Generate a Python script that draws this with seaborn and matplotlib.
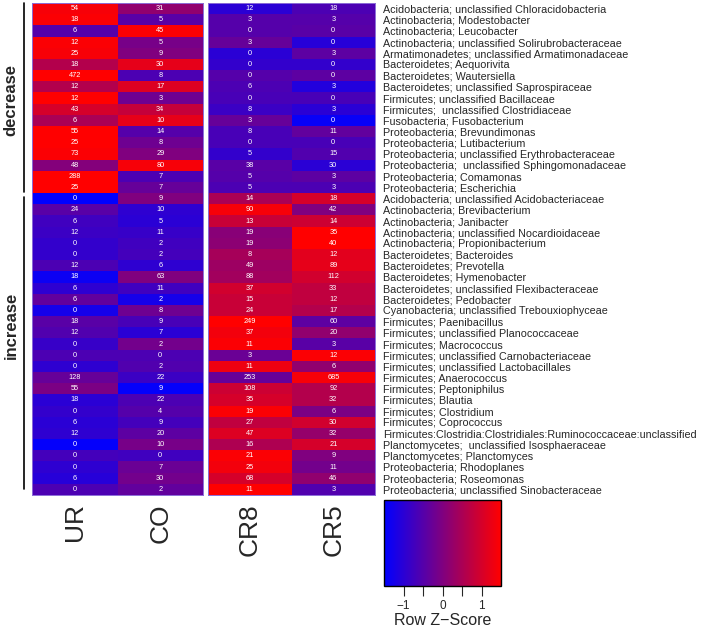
import numpy as np
import pandas as pd
import seaborn as sns
import matplotlib
matplotlib.use("Agg")
import matplotlib.pyplot as plt
from matplotlib.colors import LinearSegmentedColormap

# taxa, top to bottom (first 17 = decrease, last 27 = increase)
taxa = [
    "Acidobacteria; unclassified Chloracidobacteria",
    "Actinobacteria; Modestobacter",
    "Actinobacteria; Leucobacter",
    "Actinobacteria; unclassified Solirubrobacteraceae",
    "Armatimonadetes; unclassified Armatimonadaceae",
    "Bacteroidetes; Aequorivita",
    "Bacteroidetes; Wautersiella",
    "Bacteroidetes; unclassified Saprospiraceae",
    "Firmicutes; unclassified Bacillaceae",
    "Firmicutes;  unclassified Clostridiaceae",
    "Fusobacteria; Fusobacterium",
    "Proteobacteria; Brevundimonas",
    "Proteobacteria; Lutibacterium",
    "Proteobacteria; unclassified Erythrobacteraceae",
    "Proteobacteria;  unclassified Sphingomonadaceae",
    "Proteobacteria; Comamonas",
    "Proteobacteria; Escherichia",
    "Acidobacteria; unclassified Acidobacteriaceae",
    "Actinobacteria; Brevibacterium",
    "Actinobacteria; Janibacter",
    "Actinobacteria; unclassified Nocardioidaceae",
    "Actinobacteria; Propionibacterium",
    "Bacteroidetes; Bacteroides",
    "Bacteroidetes; Prevotella",
    "Bacteroidetes; Hymenobacter",
    "Bacteroidetes; unclassified Flexibacteraceae",
    "Bacteroidetes; Pedobacter",
    "Cyanobacteria; unclassified Trebouxiophyceae",
    "Firmicutes; Paenibacillus",
    "Firmicutes; unclassified Planococcaceae",
    "Firmicutes; Macrococcus",
    "Firmicutes; unclassified Carnobacteriaceae",
    "Firmicutes; unclassified Lactobacillales",
    "Firmicutes; Anaerococcus",
    "Firmicutes; Peptoniphilus",
    "Firmicutes; Blautia",
    "Firmicutes; Clostridium",
    "Firmicutes; Coprococcus",
    "Firmicutes:Clostridia:Clostridiales:Ruminococcaceae:unclassified",
    "Planctomycetes;  unclassified Isosphaeraceae",
    "Planctomycetes; Planctomyces",
    "Proteobacteria; Rhodoplanes",
    "Proteobacteria; Roseomonas",
    "Proteobacteria; unclassified Sinobacteraceae",
]
n_decrease = 17
n_increase = 27

# counts printed in the cells
ur_counts = [54, 18, 6, 12, 25, 18, 472, 12, 12, 43, 6, 55, 25, 73, 48, 288, 25,
             0, 24, 6, 12, 0, 0, 12, 18, 6, 6, 0, 18, 12, 0, 0, 0, 128, 55, 18, 0, 6, 12, 0, 0, 0, 6, 0]
co_counts = [31, 5, 45, 5, 9, 30, 8, 17, 3, 34, 10, 14, 8, 29, 80, 7, 7,
             9, 10, 5, 11, 2, 2, 6, 63, 11, 2, 8, 9, 7, 2, 0, 2, 22, 9, 22, 4, 9, 20, 10, 0, 7, 30, 2]
cr8_counts = [12, 3, 0, 3, 0, 0, 0, 6, 0, 8, 3, 8, 0, 5, 38, 5, 5,
              14, 90, 13, 19, 19, 8, 49, 88, 37, 15, 24, 249, 37, 11, 3, 11, 253, 108, 35, 19, 27, 47, 16, 21, 25, 68, 11]
cr5_counts = [18, 3, 0, 0, 3, 0, 0, 3, 0, 3, 0, 11, 0, 15, 30, 3, 3,
              18, 42, 14, 35, 40, 12, 89, 112, 33, 12, 17, 60, 20, 3, 12, 6, 685, 92, 32, 6, 30, 32, 21, 9, 11, 46, 3]

# row z-scores (cell colours)
ur_z = [1.4, 1.45, -0.5, 1.45, 1.4, 0.6, 1.5, 0.6, 1.5, 1.0, 0.5, 1.5, 1.5, 1.45, 0.05, 1.5, 1.5,
        -1.5, -0.45, -0.75, -0.8, -0.9, -0.9, -0.6, -1.35, -0.95, -0.35, -1.25, -0.45, -0.55, -0.85,
        -0.6, -0.95, -0.3, -0.05, -1.0, -0.9, -1.0, -0.95, -1.45, -0.7, -0.95, -1.05, -0.6]
co_z = [0.2, -0.45, 1.45, -0.1, 0.0, 1.2, -0.6, 1.1, -0.2, 0.8, 1.2, -0.5, -0.2, 0.0, 1.4, -0.6, -0.3,
        0.0, -0.95, -1.0, -0.85, -0.75, -0.7, -0.95, 0.0, -0.75, -1.25, -0.2, -0.65, -1.0, -0.15,
        -0.6, -0.55, -0.8, -1.45, -0.6, -0.5, -0.7, -0.4, -0.1, -0.75, -0.25, -0.15, -0.35]
cr8_z = [-1.0, -0.5, -0.5, -0.3, -1.0, -0.9, -0.5, -0.6, -0.65, -0.8, -0.3, -0.65, -0.65, -0.9, -0.45, -0.5, -0.6,
         0.5, 1.4, 0.85, 0.1, 0.15, 0.45, 0.35, 0.4, 0.95, 0.85, 0.85, 1.5, 1.35, 1.45,
         -0.25, 1.3, -0.3, 0.9, 1.0, 1.45, 0.75, 1.1, 0.55, 1.45, 1.35, 1.0, 1.5]
cr5_z = [-0.6, -0.5, -0.45, -1.05, -0.4, -0.9, -0.4, -1.1, -0.65, -1.0, -1.4, -0.35, -0.65, -0.55, -1.0, -0.4, -0.6,
         1.0, 0.0, 0.9, 1.5, 1.5, 1.15, 1.2, 0.95, 0.75, 0.75, 0.6, -0.4, 0.2, -0.45,
         1.45, 0.2, 1.4, 0.6, 0.6, -0.05, 0.95, 0.25, 1.0, 0.0, -0.15, 0.2, -0.55]

left_z = pd.DataFrame({"UR": ur_z, "CO": co_z}, index=taxa)
right_z = pd.DataFrame({"CR8": cr8_z, "CR5": cr5_z}, index=taxa)
left_n = np.array([ur_counts, co_counts]).T
right_n = np.array([cr8_counts, cr5_counts]).T

sns.set_style("white")
plt.rcParams["font.family"] = ["Liberation Sans", "DejaVu Sans"]

cmap = LinearSegmentedColormap.from_list("bluered", ["#0000ff", "#ff0000"])
W, H = 706, 634
fig = plt.figure(figsize=(W / 100, H / 100), dpi=100)

def box(x0, y0, x1, y1):
    # pixel box -> figure fraction
    return [x0 / W, 1 - y1 / H, (x1 - x0) / W, (y1 - y0) / H]

ax1 = fig.add_axes(box(32, 3, 203, 495))
ax2 = fig.add_axes(box(208, 3, 375, 495))
cax = fig.add_axes(box(384, 500, 501, 586))

annot_kws = {"size": 5.3, "color": "white"}
sns.heatmap(left_z, ax=ax1, cmap=cmap, vmin=-1.5, vmax=1.5, cbar=False,
            annot=left_n, fmt="d", annot_kws=annot_kws, yticklabels=False)
sns.heatmap(right_z, ax=ax2, cmap=cmap, vmin=-1.5, vmax=1.5, cbar=True, cbar_ax=cax,
            cbar_kws={"orientation": "horizontal"},
            annot=right_n, fmt="d", annot_kws=annot_kws, yticklabels=True)

for ax in (ax1, ax2):
    ax.tick_params(axis="x", length=0, pad=6)
    ax.set_xticklabels(ax.get_xticklabels(), rotation=90, fontsize=19, va="top")
    for s in ax.spines.values():
        s.set_visible(True)
        s.set_color("#8c6cd8")
        s.set_linewidth(0.7)

ax2.yaxis.tick_right()
ax2.tick_params(axis="y", length=0, pad=6)
ax2.set_yticklabels(taxa, rotation=0, fontsize=7.75, ha="left")

# colour key
cax.set_xticks([-1, -0.5, 0, 0.5, 1])
cax.set_xticklabels(["\u22121", "", "0", "", "1"], fontsize=8.5)
cax.tick_params(axis="x", length=7, width=0.8, pad=3, direction="out")
cax.set_xlabel("Row Z\u2212Score", fontsize=11.5, labelpad=1)
cb = ax2.collections[0].colorbar
cb.outline.set_edgecolor("black")
cb.outline.set_linewidth(1)

# group brackets and labels
row_h = 492 / len(taxa)
y_dec_end = 3 + n_decrease * row_h
fig.add_artist(plt.Line2D([24 / W, 24 / W], [1 - 3 / H, 1 - (y_dec_end - 1) / H], color="black", lw=1.2))
fig.add_artist(plt.Line2D([24 / W, 24 / W], [1 - (y_dec_end + 4) / H, 1 - 489 / H], color="black", lw=1.2))
fig.text(11 / W, 1 - 100 / H, "decrease", rotation=90, ha="center", va="center",
         fontsize=12, fontweight="bold")
fig.text(11 / W, 1 - 325 / H, "increase", rotation=90, ha="center", va="center",
         fontsize=12, fontweight="bold")

fig.savefig("out.png", dpi=100)
